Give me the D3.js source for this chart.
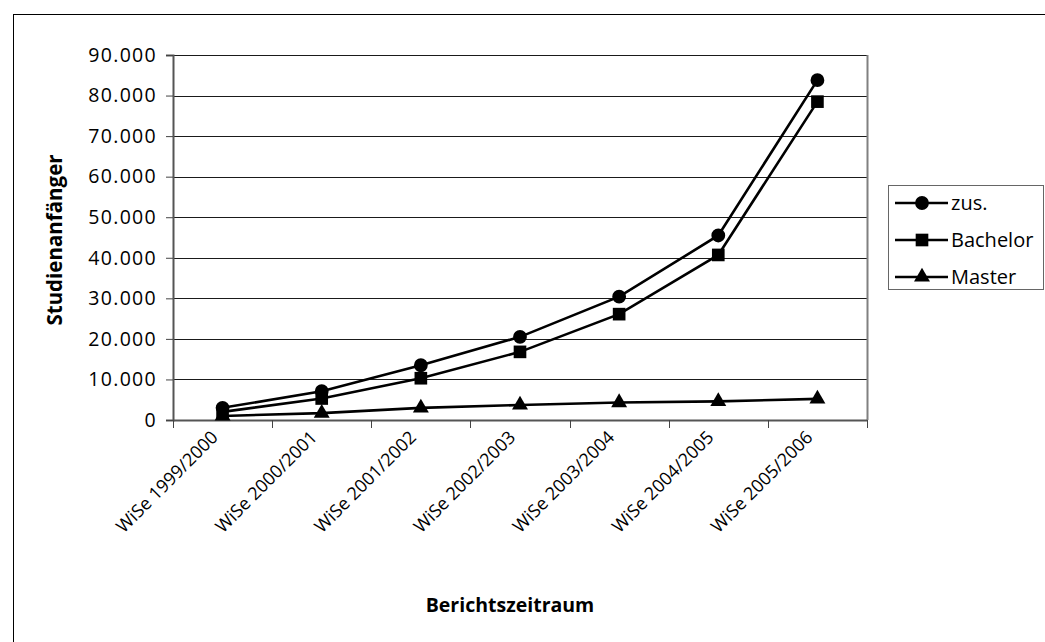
<!DOCTYPE html>
<html>
<head>
<meta charset="utf-8">
<script src="https://cdn.jsdelivr.net/npm/d3@7"></script>
<style>
  html, body { margin: 0; padding: 0; background: #fff; }
  svg { display: block; }
  text { font-family: "Open Sans", sans-serif; fill: #000; }
</style>
</head>
<body>
<svg id="chart" width="1045" height="642"></svg>
<script>
const categories = ["WiSe 1999/2000", "WiSe 2000/2001", "WiSe 2001/2002", "WiSe 2002/2003", "WiSe 2003/2004", "WiSe 2004/2005", "WiSe 2005/2006"];
const zus      = [3000, 7100, 13500, 20500, 30400, 45500, 83800];
const bachelor = [2000, 5300, 10300, 16800, 26100, 40700, 78500];
const master   = [1000, 1700, 3000, 3700, 4300, 4600, 5200];
const seriesNames = ["zus.", "Bachelor", "Master"];
const yTicks = [0, 10000, 20000, 30000, 40000, 50000, 60000, 70000, 80000, 90000];
const yTitle = "Studienanfänger";
const xTitle = "Berichtszeitraum";

const svg = d3.select("#chart");
const plot = { left: 173, right: 867, top: 55, bottom: 420 };

const x = d3.scaleBand().domain(categories).range([plot.left, plot.right]).padding(0);
const y = d3.scaleLinear().domain([0, 90000]).range([plot.bottom, plot.top]);
const cx = c => x(c) + x.bandwidth() / 2;

const de = d3.formatLocale({ decimal: ",", thousands: ".", grouping: [3], currency: ["", " €"] });
const fmt = de.format(",d");

// outer chart border (cropped at right/bottom)
svg.append("rect").attr("x", 13.5).attr("y", 14.5).attr("width", 1100).attr("height", 700)
  .attr("fill", "none").attr("stroke", "#000").attr("stroke-width", 1);

// gridlines
svg.append("g").selectAll("line").data(yTicks.filter(d => d > 0)).join("line")
  .attr("x1", plot.left).attr("x2", plot.right)
  .attr("y1", d => Math.round(y(d)) + 0.5).attr("y2", d => Math.round(y(d)) + 0.5)
  .attr("stroke", "#1a1a1a").attr("stroke-width", 1);

// plot right border
svg.append("line").attr("x1", plot.right + 0.5).attr("x2", plot.right + 0.5)
  .attr("y1", plot.top).attr("y2", plot.bottom)
  .attr("stroke", "#808080").attr("stroke-width", 2);

// y axis
const yAxis = svg.append("g").attr("transform", `translate(${plot.left},0)`)
  .call(d3.axisLeft(y).tickValues(yTicks).tickSize(7).tickPadding(9).tickFormat(fmt));
yAxis.select(".domain").attr("stroke", "#555").attr("stroke-width", 2);
yAxis.selectAll(".tick line").attr("stroke", "#444").attr("stroke-width", 1);
yAxis.selectAll("text").style("font-family", "'Open Sans', sans-serif").style("font-size", "19.5px")
  .style("letter-spacing", "1.3px").attr("fill", "#000");

// x axis line and ticks at category boundaries
const boundaries = categories.map(c => x(c)).concat([plot.right]);
svg.append("line").attr("x1", plot.left).attr("x2", plot.right)
  .attr("y1", plot.bottom + 0.5).attr("y2", plot.bottom + 0.5)
  .attr("stroke", "#555").attr("stroke-width", 2);
svg.append("g").selectAll("line").data(boundaries).join("line")
  .attr("x1", d => Math.round(d) + 0.5).attr("x2", d => Math.round(d) + 0.5)
  .attr("y1", plot.bottom).attr("y2", plot.bottom + 8)
  .attr("stroke", "#444").attr("stroke-width", 1);

// x labels
svg.append("g").selectAll("text").data(categories).join("text")
  .attr("transform", c => `translate(${cx(c) - 8},${plot.bottom + 14}) rotate(-45)`)
  .attr("text-anchor", "end")
  .attr("dy", "0.35em")
  .style("font-size", "18px")
  .text(c => c);

// axis titles
svg.append("text").attr("transform", "translate(62,240) rotate(-90)")
  .attr("text-anchor", "middle").style("font-size", "20.5px").style("font-weight", "bold")
  .text(yTitle);
svg.append("text").attr("x", 510).attr("y", 612)
  .attr("text-anchor", "middle").style("font-size", "19.5px").style("font-weight", "bold")
  .text(xTitle);

// series
const symbols = [d3.symbolCircle, d3.symbolSquare, d3.symbolTriangle];
const symSizes = [150, 160, 110];
const data = [zus, bachelor, master];
const line = d3.line().x((d, i) => cx(categories[i])).y(d => y(d));

data.forEach((vals, si) => {
  svg.append("path").datum(vals).attr("d", line)
    .attr("fill", "none").attr("stroke", "#000").attr("stroke-width", 2.6);
  svg.append("g").selectAll("path").data(vals).join("path")
    .attr("transform", (d, i) => `translate(${cx(categories[i])},${y(d)})`)
    .attr("d", d3.symbol().type(symbols[si]).size(symSizes[si]))
    .attr("fill", "#000");
});

// legend
const lg = svg.append("g");
lg.append("rect").attr("x", 888.5).attr("y", 185.5).attr("width", 155).attr("height", 104)
  .attr("fill", "#fff").attr("stroke", "#666").attr("stroke-width", 1);
seriesNames.forEach((name, i) => {
  const ly = 203 + i * 37;
  lg.append("line").attr("x1", 895).attr("x2", 948).attr("y1", ly).attr("y2", ly)
    .attr("stroke", "#000").attr("stroke-width", 2.6);
  lg.append("path").attr("transform", `translate(922,${ly})`)
    .attr("d", d3.symbol().type(symbols[i]).size(symSizes[i])).attr("fill", "#000");
  lg.append("text").attr("x", 951).attr("y", ly + 7).style("font-size", "20px").text(name);
});
</script>
</body>
</html>
